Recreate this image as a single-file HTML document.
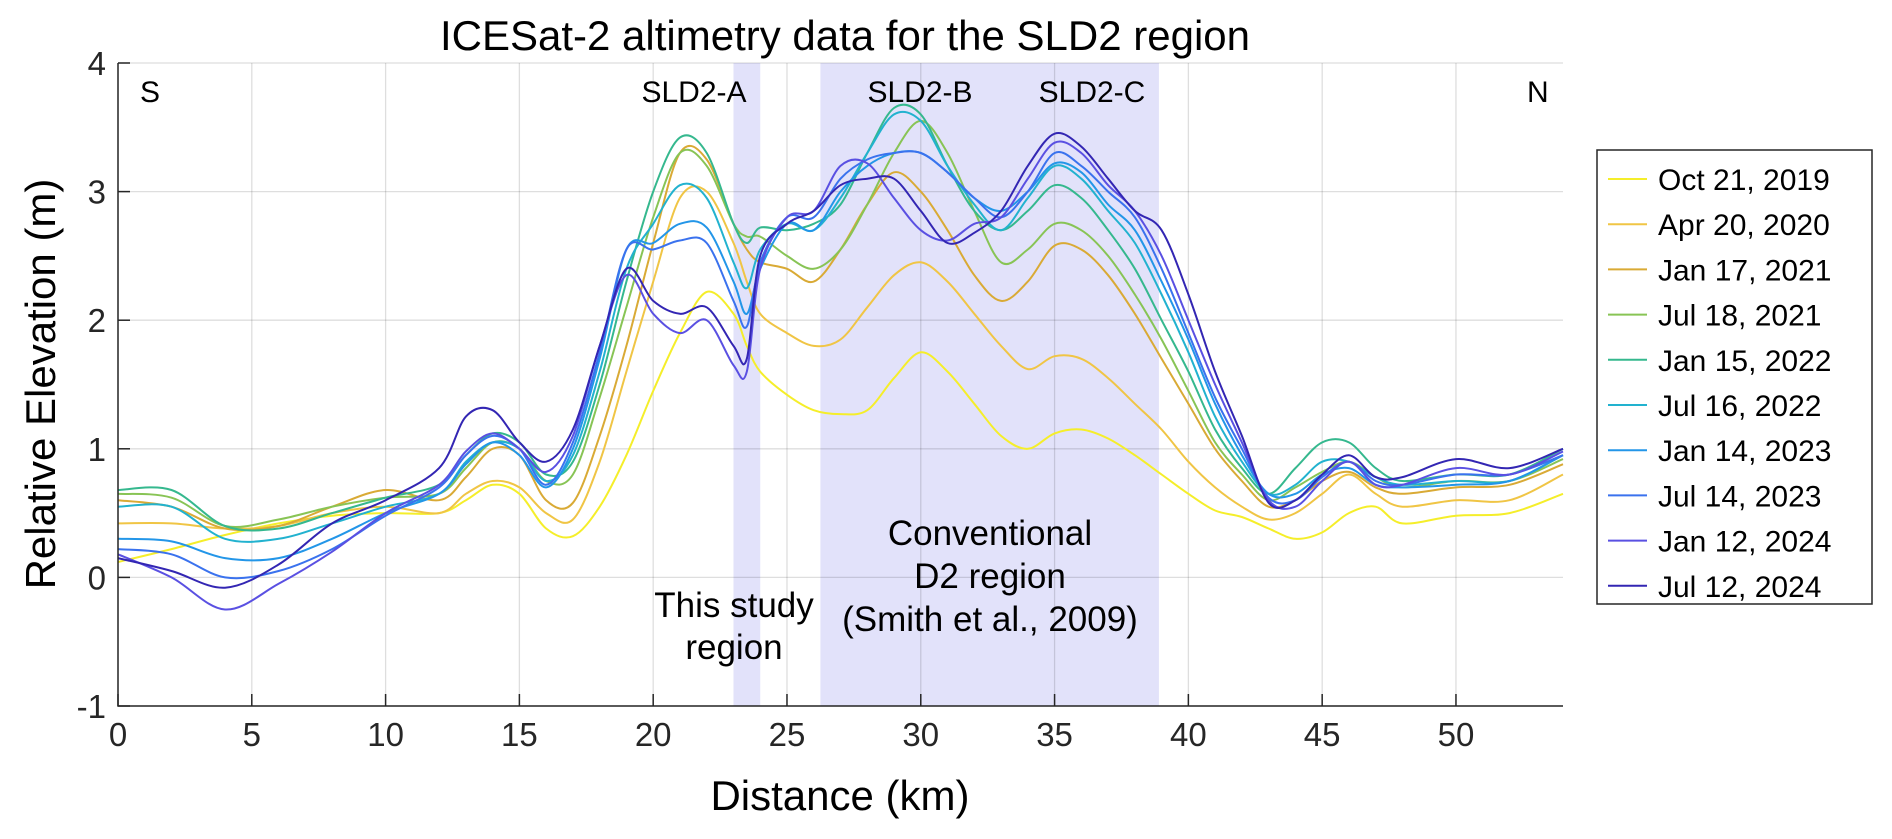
<!DOCTYPE html>
<html><head><meta charset="utf-8"><style>
body{margin:0;background:#fff;}
svg{display:block;font-family:"Liberation Sans",Arial,sans-serif;}
</style></head><body>
<svg id="chart" width="1892" height="839" viewBox="0 0 1892 839">
<g id="bands"></g><g id="grid"></g><g id="series"></g><g id="axes"></g><g id="labels"></g><g id="legend"></g>
</svg>
<script>
const kmPoints=[0,2,4,6,8,10,12,13,14,15,16,17,18,19,20,21,22,23,23.5,24,25,26,27,28,29,30,31,32,33,34,35,36,37,38,39,40,41,42,43,44,45,46,47,48,50,52,54];
const seriesNames=["Oct 21, 2019","Apr 20, 2020","Jan 17, 2021","Jul 18, 2021","Jan 15, 2022","Jul 16, 2022","Jan 14, 2023","Jul 14, 2023","Jan 12, 2024","Jul 12, 2024"];
const seriesColors=["#f5ee2a","#f0c545","#d9aa35","#88c455","#35b88e","#22b2cf","#2396e8","#3a72ee","#5a50e2","#3326b3"];
const oct2019=[0.12,0.22,0.33,0.42,0.48,0.5,0.5,0.6,0.72,0.65,0.38,0.32,0.55,0.95,1.45,1.9,2.22,2.05,1.8,1.6,1.42,1.3,1.27,1.3,1.55,1.75,1.6,1.35,1.1,1.0,1.12,1.15,1.08,0.95,0.8,0.65,0.52,0.47,0.38,0.3,0.35,0.5,0.55,0.42,0.48,0.5,0.65];
const apr2020=[0.42,0.42,0.38,0.4,0.5,0.55,0.5,0.65,0.75,0.7,0.5,0.45,0.9,1.6,2.3,2.95,3.0,2.6,2.3,2.05,1.9,1.8,1.85,2.1,2.35,2.45,2.3,2.05,1.8,1.62,1.72,1.7,1.55,1.35,1.15,0.9,0.7,0.55,0.45,0.5,0.65,0.8,0.65,0.55,0.6,0.6,0.8];
const jan2021=[0.6,0.55,0.38,0.4,0.55,0.68,0.6,0.78,1.0,0.95,0.6,0.58,1.1,1.8,2.6,3.3,3.25,2.75,2.55,2.45,2.4,2.3,2.55,2.9,3.15,3.0,2.7,2.35,2.15,2.3,2.58,2.55,2.35,2.05,1.7,1.35,1.0,0.75,0.55,0.6,0.75,0.82,0.7,0.65,0.7,0.72,0.88];
const jul2021=[0.65,0.62,0.4,0.45,0.55,0.62,0.65,0.85,1.05,1.0,0.75,0.8,1.4,2.1,2.8,3.3,3.2,2.75,2.65,2.65,2.5,2.4,2.55,2.9,3.3,3.55,3.3,2.85,2.45,2.55,2.75,2.7,2.5,2.2,1.85,1.45,1.05,0.8,0.6,0.7,0.82,0.9,0.78,0.7,0.75,0.75,0.92];
const jan2022=[0.68,0.68,0.4,0.38,0.5,0.62,0.72,0.95,1.12,1.05,0.8,0.9,1.5,2.3,3.0,3.42,3.3,2.75,2.6,2.72,2.7,2.75,2.9,3.3,3.65,3.6,3.2,2.85,2.7,2.85,3.05,2.95,2.7,2.4,2.0,1.6,1.15,0.85,0.65,0.85,1.05,1.05,0.85,0.75,0.8,0.8,1.0];
const jul2022=[0.55,0.55,0.3,0.3,0.42,0.55,0.65,0.9,1.05,1.0,0.75,0.95,1.6,2.4,2.75,3.05,2.95,2.45,2.25,2.55,2.75,2.7,2.95,3.3,3.6,3.55,3.2,2.9,2.7,2.95,3.2,3.1,2.85,2.6,2.2,1.75,1.25,0.9,0.65,0.72,0.9,0.9,0.78,0.72,0.75,0.75,0.95];
const jan2023=[0.3,0.28,0.15,0.15,0.3,0.5,0.65,0.88,1.05,0.95,0.7,1.0,1.7,2.55,2.6,2.75,2.72,2.3,2.05,2.4,2.75,2.7,3.0,3.2,3.3,3.3,3.15,2.95,2.85,3.0,3.22,3.15,2.9,2.7,2.3,1.85,1.35,0.95,0.65,0.65,0.8,0.85,0.72,0.7,0.72,0.75,0.95];
const jul2023=[0.22,0.18,0.0,0.05,0.22,0.48,0.7,0.95,1.1,1.0,0.72,1.05,1.75,2.55,2.55,2.62,2.6,2.15,1.95,2.45,2.8,2.8,3.1,3.25,3.3,3.3,3.15,2.95,2.8,3.0,3.3,3.2,3.0,2.8,2.4,1.9,1.4,1.0,0.62,0.6,0.78,0.9,0.75,0.72,0.8,0.8,0.95];
const jan2024=[0.18,0.0,-0.25,-0.05,0.2,0.5,0.72,0.98,1.12,1.0,0.82,1.1,1.8,2.35,2.05,1.9,2.0,1.65,1.6,2.4,2.8,2.85,3.2,3.22,2.95,2.7,2.62,2.75,2.8,3.1,3.38,3.3,3.05,2.85,2.5,2.0,1.5,1.05,0.6,0.55,0.75,0.9,0.72,0.72,0.85,0.8,0.98];
const jul2024=[0.15,0.05,-0.08,0.1,0.42,0.6,0.85,1.25,1.3,1.05,0.9,1.15,1.8,2.4,2.15,2.05,2.1,1.8,1.7,2.5,2.75,2.85,3.05,3.1,3.1,2.85,2.6,2.68,2.85,3.2,3.45,3.35,3.1,2.85,2.7,2.2,1.6,1.1,0.58,0.6,0.8,0.95,0.78,0.78,0.92,0.85,1.0];
const seriesValues=[oct2019,apr2020,jan2021,jul2021,jan2022,jul2022,jan2023,jul2023,jan2024,jul2024];
const xTicks=[0,5,10,15,20,25,30,35,40,45,50];
const yTicks=[-1,0,1,2,3,4];
const bandRanges=[[23,24],[26.25,38.9]];

const NS="http://www.w3.org/2000/svg";
const X0=118,X1=1563,Y0=63,Y1=706;
const xS=v=>X0+(v-0)/(54-0)*(X1-X0);
const yS=v=>Y1-(v-(-1))/(4-(-1))*(Y1-Y0);
function mk(tag,attrs,parent,text){const e=document.createElementNS(NS,tag);for(const k in attrs)e.setAttribute(k,attrs[k]);if(text!==undefined)e.textContent=text;parent.appendChild(e);return e;}

const bands=document.getElementById('bands');
bandRanges.forEach((r,i)=>{
  const e=mk('rect',{x:xS(r[0]),y:Y0,width:xS(r[1])-xS(r[0]),height:Y1-Y0,fill:'#e2e2fa'},bands);
  
  
});
const grid=document.getElementById('grid');
xTicks.forEach(t=>{const e=mk('line',{x1:xS(t),x2:xS(t),y1:Y0,y2:Y1,stroke:'#000','stroke-opacity':0.13,'stroke-width':1.3},grid);

});
yTicks.forEach(t=>{const e=mk('line',{x1:X0,x2:X1,y1:yS(t),y2:yS(t),stroke:'#000','stroke-opacity':0.13,'stroke-width':1.3},grid);

});

function smoothPath(xs,ys){
  const p=xs.map((x,i)=>[xS(x),yS(ys[i])]);
  let d='M'+p[0][0].toFixed(1)+','+p[0][1].toFixed(1);
  for(let i=0;i<p.length-1;i++){
    const p0=p[Math.max(0,i-1)],p1=p[i],p2=p[i+1],p3=p[Math.min(p.length-1,i+2)];
    const c1=[p1[0]+(p2[0]-p0[0])/6,p1[1]+(p2[1]-p0[1])/6];
    const c2=[p2[0]-(p3[0]-p1[0])/6,p2[1]-(p3[1]-p1[1])/6];
    d+='C'+c1[0].toFixed(1)+','+c1[1].toFixed(1)+' '+c2[0].toFixed(1)+','+c2[1].toFixed(1)+' '+p2[0].toFixed(1)+','+p2[1].toFixed(1);
  }
  return d;
}
const sg=document.getElementById('series');
seriesValues.forEach((vals,i)=>{
  const e=mk('path',{d:smoothPath(kmPoints,vals),fill:'none',stroke:seriesColors[i],'stroke-width':2,'stroke-linejoin':'round'},sg);
  
  
});

const ax=document.getElementById('axes');
const frame=mk('path',{d:`M${X0},${Y0}V${Y1}H${X1}`,fill:'none',stroke:'#262626','stroke-width':1.5},ax);


xTicks.forEach(t=>{
  mk('line',{x1:xS(t),x2:xS(t),y1:Y1,y2:Y1-12,stroke:'#262626','stroke-width':1.5},ax);
  const e=mk('text',{x:xS(t),y:Y1+40,'text-anchor':'middle','font-size':33,fill:'#262626'},ax,String(t));
  
  
});
yTicks.forEach(t=>{
  mk('line',{x1:X0,x2:X0+12,y1:yS(t),y2:yS(t),stroke:'#262626','stroke-width':1.5},ax);
  const e=mk('text',{x:X0-12,y:yS(t)+12,'text-anchor':'end','font-size':33,fill:'#262626'},ax,String(t));
  
  
});
</script>
<script>
(function(){
const NS="http://www.w3.org/2000/svg";
const L=document.getElementById('labels');
function t(x,y,s,txt,name,anchor){const e=document.createElementNS(NS,'text');e.setAttribute('x',x);e.setAttribute('y',y);e.setAttribute('font-size',s);e.setAttribute('text-anchor',anchor||'middle');e.setAttribute('fill','#000');e.textContent=txt;L.appendChild(e);

}
t(845,50,42,'ICESat-2 altimetry data for the SLD2 region','chart-title');
t(840,810,42,'Distance (km)','x-axis-title');
t(140,102,30,'S','south-label','start');
t(1527,102,30,'N','north-label','start');
t(694,102,30,'SLD2-A','sld2-a-label');
t(920,102,30,'SLD2-B','sld2-b-label');
t(1092,102,30,'SLD2-C','sld2-c-label');
t(734,617,35,'This study','study-region-label');
t(734,659,35,'region','study-region-label');
t(990,545,35,'Conventional','d2-region-label');
t(990,588,35,'D2 region','d2-region-label');
t(990,631,35,'(Smith et al., 2009)','d2-region-citation');
const yl=document.createElementNS(NS,'text');yl.setAttribute('transform','translate(55,384) rotate(-90)');yl.setAttribute('text-anchor','middle');yl.setAttribute('font-size',42);yl.textContent='Relative Elevation (m)';L.appendChild(yl);


const G=document.getElementById('legend');
const box=document.createElementNS(NS,'rect');box.setAttribute('x',1597);box.setAttribute('y',150);box.setAttribute('width',275);box.setAttribute('height',454);box.setAttribute('fill','#fff');box.setAttribute('stroke','#262626');box.setAttribute('stroke-width',1.5);G.appendChild(box);


seriesNames.forEach((n,i)=>{
  const y=179+i*45.2;
  const g=document.createElementNS(NS,'g');G.appendChild(g);
  
  
  const ln=document.createElementNS(NS,'line');ln.setAttribute('x1',1608);ln.setAttribute('x2',1647);ln.setAttribute('y1',y);ln.setAttribute('y2',y);ln.setAttribute('stroke',seriesColors[i]);ln.setAttribute('stroke-width',2);g.appendChild(ln);
  const tx=document.createElementNS(NS,'text');tx.setAttribute('x',1658);tx.setAttribute('y',y+11);tx.setAttribute('font-size',30);tx.textContent=n;g.appendChild(tx);
});
})();
</script>
</body></html>
